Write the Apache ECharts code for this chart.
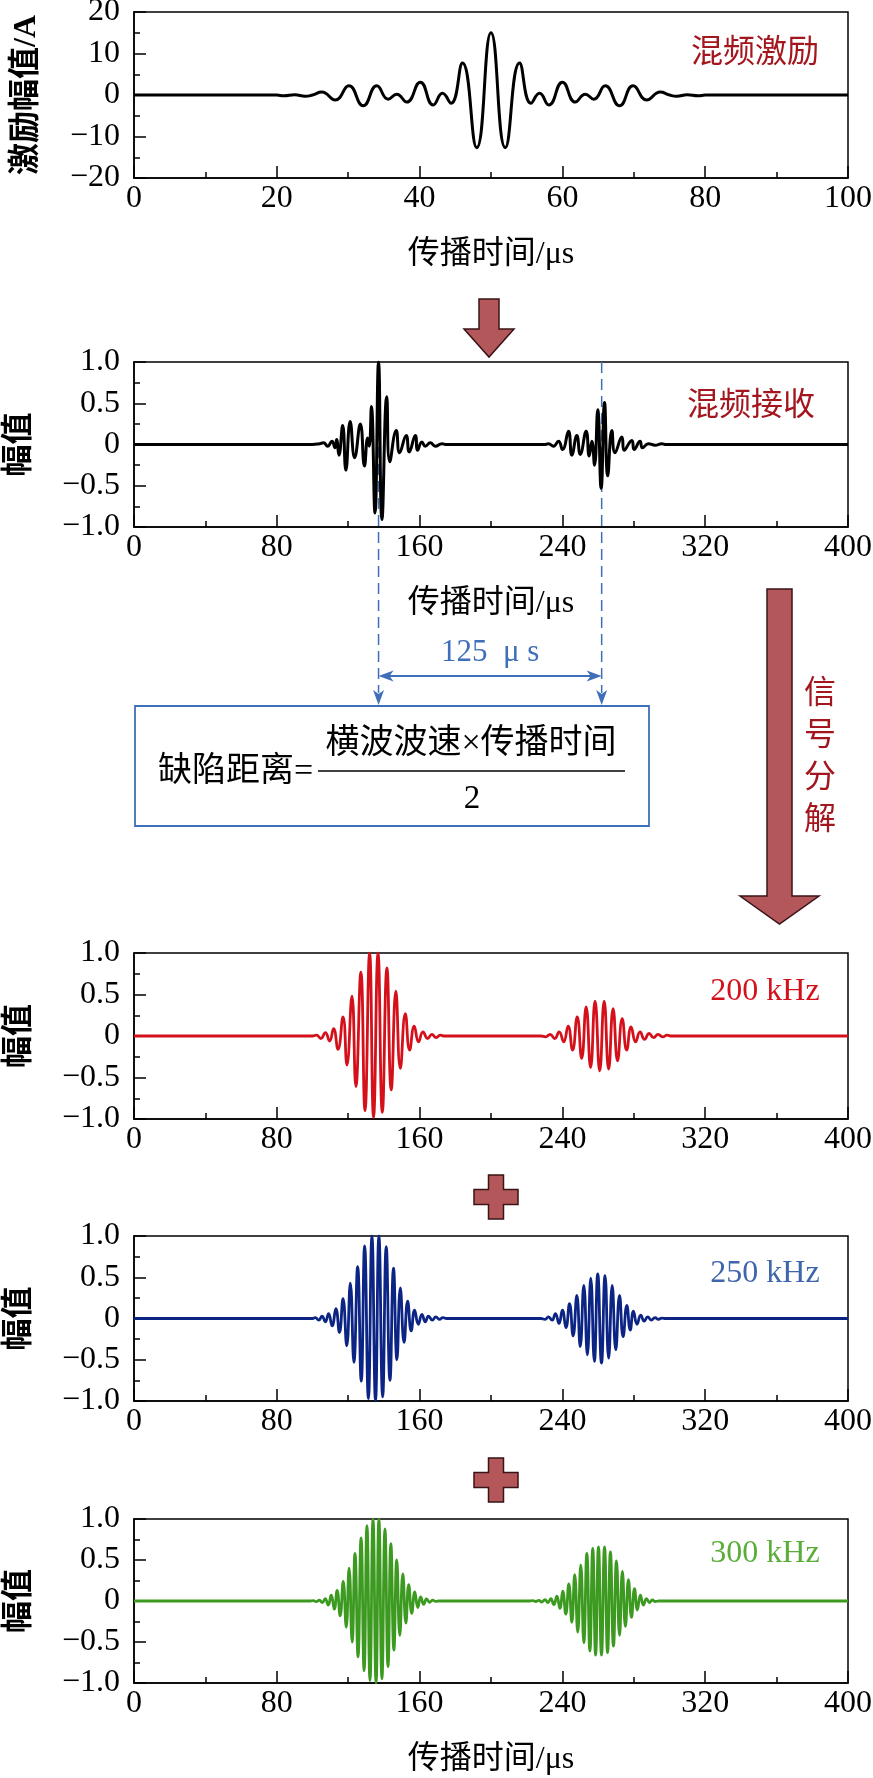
<!DOCTYPE html>
<html><head><meta charset="utf-8">
<script src="https://cdn.jsdelivr.net/npm/echarts/dist/echarts.min.js"></script>
<style>html,body{margin:0;padding:0;background:#fff}#c{width:873px;height:1778px}</style>
</head><body><div id="c"></div><script>
// ---------- data (time in μs, amplitude) ----------
const excitation = [[0,0],[20,0],[21,-0.2],[22.5,0.05],[24,-0.3],[25,0],[26.3,0.7],[28.2,-1.2],[30.1,2.2],[32.1,-2.6],[34.0,2.2],[35.6,-1.0],[36.8,0.2],[38.2,-1.7],[40.1,3.1],[41.9,-2.4],[43.2,0.4],[44.4,-2.0],[46.0,7.7],[48.0,-12.7],[50.0,15.0],[52.0,-12.7],[54.0,7.7],[55.6,-2.0],[56.8,0.4],[58.1,-2.4],[60.0,3.1],[61.8,-1.7],[63.2,0.2],[64.4,-1.0],[66.0,2.2],[68.0,-2.6],[69.9,2.2],[71.8,-1.2],[73.7,0.7],[75.0,0],[76,-0.3],[77.5,0.05],[79,-0.2],[80,0],[100,0]];

const mixedBurst1 = [[100,0],[104,0.01],[106.2,0.02],[108.5,-0.02],[110.9,0.04],[112.6,-0.04],[113.5,0.06],[114.8,-0.13],[116.9,0.23],[118.7,-0.31],[121.1,0.28],[123.6,-0.16],[126.8,0.25],[129.1,-0.26],[130.9,0.08],[131.8,-0.02],[133.0,0.46],[135.0,-0.83],[137.0,1.0],[138.9,-0.91],[141.6,0.58],[143.3,-0.21],[146.9,0.17],[148.8,-0.1],[152.5,0.11],[154.2,-0.09],[157.6,0.11],[158.9,-0.07],[161.3,0.03],[163.2,-0.02],[166.0,0.02],[168.8,-0.02],[172.5,0.01],[175,0]];
const mixedBurst2 = [[230,0],[232.2,0.01],[235.0,-0.02],[237.8,0.04],[240.1,-0.06],[243.4,0.16],[245.3,-0.13],[248.1,0.11],[250.0,-0.12],[253.3,0.16],[255.0,-0.14],[256.5,0.04],[258.0,-0.25],[259.8,0.42],[261.7,-0.53],[263.6,0.51],[265.4,-0.38],[267.7,0.17],[269.5,-0.10],[273.3,0.09],[274.6,-0.07],[278.9,0.05],[280.2,-0.06],[283.5,0.04],[284.8,-0.04],[288.2,0.01],[292.0,-0.01],[295.7,0.01],[298,0]];

const f200Burst1 = [[100,0],[102.2,0.01],[104.7,-0.03],[107.2,0.04],[109.6,-0.06],[111.8,0.09],[114.3,-0.16],[117.1,0.23],[119.3,-0.35],[122.1,0.48],[124.3,-0.61],[127.1,0.77],[129.4,-0.9],[132.0,1.0],[134.2,-0.98],[136.7,1.0],[139.1,-0.92],[141.7,0.82],[144.1,-0.65],[146.7,0.54],[149.2,-0.39],[152.0,0.27],[154.4,-0.17],[157.0,0.12],[159.4,-0.07],[161.9,0.05],[164.5,-0.03],[166.9,0.02],[169.3,-0.02],[171.6,0.01],[174,0]];
const f200Burst2 = [[228,0],[230.6,-0.01],[233.1,0.02],[235.7,-0.03],[238.2,0.05],[240.7,-0.07],[243.2,0.12],[245.7,-0.17],[248.3,0.23],[250.8,-0.27],[253.3,0.35],[255.8,-0.38],[258.3,0.42],[260.9,-0.42],[263.4,0.42],[265.9,-0.40],[268.4,0.33],[270.9,-0.30],[273.5,0.21],[276.0,-0.17],[278.5,0.11],[281.0,-0.07],[283.5,0.05],[286.0,-0.04],[288.6,0.03],[291.1,-0.02],[293.6,0.02],[296.1,-0.01],[298.7,0.01],[301,0]];

const f250Burst1 = [[100,0],[101.6,0.01],[103.5,-0.02],[105.3,0.03],[107.2,-0.04],[109.0,0.06],[111.0,-0.09],[113.1,0.12],[115.1,-0.17],[117.1,0.24],[119.2,-0.33],[121.2,0.43],[123.2,-0.53],[125.3,0.63],[127.3,-0.76],[129.2,0.88],[131.3,-0.97],[133.3,1.0],[135.3,-1.0],[137.2,1.0],[139.3,-0.95],[141.3,0.87],[143.4,-0.75],[145.4,0.61],[147.3,-0.5],[149.2,0.37],[151.3,-0.29],[153.3,0.21],[155.3,-0.15],[157.2,0.10],[159.3,-0.07],[161.3,0.05],[163.2,-0.04],[165.0,0.03],[167.1,-0.02],[169.1,0.02],[171.1,-0.01],[173.1,0.01],[175,0]];
const f250Burst2 = [[228,0],[230.3,-0.01],[232.2,0.02],[234.2,-0.02],[236.1,0.06],[238.1,-0.06],[240.0,0.10],[242.0,-0.11],[244.0,0.18],[246.0,-0.21],[248.1,0.28],[250.0,-0.34],[252.0,0.40],[254.0,-0.44],[255.9,0.49],[257.9,-0.52],[259.8,0.54],[261.9,-0.54],[263.9,0.52],[265.9,-0.48],[267.9,0.40],[269.9,-0.38],[272.0,0.28],[274.0,-0.22],[276.1,0.16],[278.0,-0.14],[279.8,0.09],[281.8,-0.07],[283.9,0.04],[285.8,-0.03],[287.8,0.02],[289.8,-0.02],[291.9,0.01],[293.8,-0.01],[295.7,0.004],[298,0]];

const f300Burst1 = [[98,0],[100.4,0.005],[102.1,-0.008],[103.8,0.01],[105.5,-0.02],[107.1,0.03],[108.8,-0.05],[110.5,0.07],[112.2,-0.1],[113.8,0.13],[115.5,-0.18],[117.2,0.24],[118.9,-0.32],[120.5,0.40],[122.2,-0.5],[123.8,0.58],[125.5,-0.68],[127.2,0.77],[128.9,-0.85],[130.5,0.92],[132.2,-0.97],[133.9,1.0],[135.6,-1.0],[137.2,1.0],[138.9,-0.95],[140.6,0.88],[142.3,-0.8],[143.9,0.70],[145.6,-0.6],[147.2,0.50],[148.9,-0.42],[150.6,0.33],[152.3,-0.27],[153.9,0.20],[155.6,-0.15],[157.3,0.11],[159.0,-0.08],[160.6,0.05],[162.3,-0.04],[163.9,0.025],[165.6,-0.015],[167.3,0.01],[169,-0.005],[171,0]];
const f300Burst2 = [[221,0],[223.4,0.004],[225.1,-0.006],[226.8,0.008],[228.5,-0.012],[230.2,0.016],[231.9,-0.02],[233.5,0.03],[235.2,-0.045],[236.9,0.06],[238.6,-0.09],[240.2,0.12],[241.9,-0.16],[243.6,0.21],[245.3,-0.26],[246.9,0.32],[248.6,-0.38],[250.3,0.44],[252.0,-0.51],[253.7,0.58],[255.4,-0.61],[257.0,0.64],[258.6,-0.66],[260.2,0.66],[261.9,-0.66],[263.6,0.66],[265.3,-0.63],[266.9,0.60],[268.6,-0.55],[270.3,0.49],[272.0,-0.42],[273.6,0.36],[275.3,-0.31],[277.0,0.26],[278.7,-0.2],[280.4,0.15],[282.0,-0.11],[283.7,0.07],[285.4,-0.05],[287.1,0.03],[288.8,-0.02],[290.4,0.012],[292,-0.006],[294,0]];

const echoTimes = [137, 262];          // echo arrival times marked by dashed lines (μs)
const panelLabels = ['混频激励', '混频接收', '200 kHz', '250 kHz', '300 kHz'];
const xLabelText = '传播时间/μs';
const yLabels = ['激励幅值/A', '幅值', '幅值', '幅值', '幅值'];

// ---------- layout / style ----------
const FONT = "'Liberation Serif','Noto Sans CJK SC',serif";
const L = 134, W = 714;
const gridsPos = [{top:12,height:166},{top:362,height:165},{top:953,height:166},{top:1236,height:165},{top:1519,height:164}];
const lineColors = ['#000000','#000000','#d4111b','#0c2585','#3d9a20'];
const labelColors = ['#a3161e','#a3161e','#d4111b','#3f65aa','#5aad38'];
const full = (b1, b2) => [[0,0], ...b1, ...b2, [400,0]];
const seriesData = [excitation, full(mixedBurst1, mixedBurst2), full(f200Burst1, f200Burst2), full(f250Burst1, f250Burst2), full(f300Burst1, f300Burst2)];

const minus = s => String(s).replace('-', '\u2212');
function xAx(i, max, interval){
  return {type:'value', gridIndex:i, min:0, max, interval,
    axisLine:{show:true, onZero:false, lineStyle:{color:'#000', width:1.5}},
    axisTick:{show:true, inside:true, length:12, lineStyle:{color:'#000', width:1.5}},
    minorTick:{show:true, splitNumber:2, length:6, lineStyle:{color:'#000', width:1.5}},
    splitLine:{show:false}, minorSplitLine:{show:false},
    axisLabel:{color:'#000', fontSize:32, fontFamily:FONT, margin:5}};
}
function yAx(i, min, max, interval, fmt){
  return {type:'value', gridIndex:i, min, max, interval,
    axisLine:{show:true, onZero:false, lineStyle:{color:'#000', width:1.5}},
    axisTick:{show:true, inside:true, length:12, lineStyle:{color:'#000', width:1.5}},
    minorTick:{show:true, splitNumber:2, length:6, lineStyle:{color:'#000', width:1.5}},
    splitLine:{show:false}, minorSplitLine:{show:false},
    axisLabel:{color:'#000', fontSize:32, fontFamily:FONT, margin:14, formatter:fmt}};
}
const fmtInt = v => minus(v);
const fmtDec = v => v === 0 ? '0' : minus(v.toFixed(1));

const chart = echarts.init(document.getElementById('c'), null, {renderer:'canvas'});
const option = {
  animation:false,
  backgroundColor:'#fff',
  grid: gridsPos.map(g => ({left:L, width:W, top:g.top, height:g.height, show:true, borderColor:'#000', borderWidth:1.5, backgroundColor:'transparent', containLabel:false, outerBoundsMode:'none'})),
  xAxis: [xAx(0,100,20), xAx(1,400,80), xAx(2,400,80), xAx(3,400,80), xAx(4,400,80)],
  yAxis: [yAx(0,-20,20,10,fmtInt), yAx(1,-1,1,0.5,fmtDec), yAx(2,-1,1,0.5,fmtDec), yAx(3,-1,1,0.5,fmtDec), yAx(4,-1,1,0.5,fmtDec)],
  series: seriesData.map((d,i) => ({type:'line', xAxisIndex:i, yAxisIndex:i, data:d, symbol:'none', showSymbol:false, smooth:0.5, silent:true, clip:true,
    lineStyle:{color:lineColors[i], width: i<2 ? 3 : 2.8}}))
};
chart.setOption(option);

// ---------- annotations ----------
const BLUE = '#3f6fb8', ARROW_FILL = '#b4575a', ARROW_STROKE = '#3a1416', DARKRED = '#a3161e';
const g = [];
const txt = (text, x, y, size, color, extra) => Object.assign({type:'text', x, y, silent:true,
  style:Object.assign({text, fill:color, font: size+'px '+FONT, align:'center', verticalAlign:'middle'}, (extra&&extra.style)||{})}, extra ? {rotation: extra.rotation||0} : {});

// panel labels
const lblPos = [[755,54],[751,407],[765,992],[765,1274],[765,1554]];
panelLabels.forEach((t,i) => g.push(txt(t, lblPos[i][0], lblPos[i][1], 32, labelColors[i])));
// y labels
gridsPos.forEach((p,i) => g.push(txt(yLabels[i], i===0?27:20, p.top + p.height/2, 32, '#000', {rotation:Math.PI/2, style:{font:'bold 32px '+FONT}})));
// x labels
[0,1,4].forEach(i => { const p = gridsPos[i]; g.push(txt(xLabelText, L + W/2, p.top + p.height + 77, 32, '#000')); });

// down arrow between panel 1 and 2
g.push({type:'polygon', silent:true, shape:{points:[[479,299],[499,299],[499,329],[514,329],[489,357],[464,329],[479,329]]}, style:{fill:ARROW_FILL, stroke:ARROW_STROKE, lineWidth:1.5}});
// right big arrow
g.push({type:'polygon', silent:true, shape:{points:[[767,589],[792,589],[792,896],[819,896],[779.5,924],[740,896],[767,896]]}, style:{fill:ARROW_FILL, stroke:ARROW_STROKE, lineWidth:1.5}});
g.push(txt('信\n号\n分\n解', 820, 758, 32, DARKRED, {style:{lineHeight:42}}));
// plus signs
function plus(cx, cy){ const a=7.5, b=22; return {type:'polygon', silent:true, shape:{points:[[cx-a,cy-b],[cx+a,cy-b],[cx+a,cy-a],[cx+b,cy-a],[cx+b,cy+a],[cx+a,cy+a],[cx+a,cy+b],[cx-a,cy+b],[cx-a,cy+a],[cx-b,cy+a],[cx-b,cy-a],[cx-a,cy-a]]}, style:{fill:ARROW_FILL, stroke:ARROW_STROKE, lineWidth:1.5}}; }
g.push(plus(496,1197)); g.push(plus(496,1480));

// dashed echo lines + arrows
const xs = echoTimes.map(t => chart.convertToPixel({xAxisIndex:1}, t));
const yTop = gridsPos[1].top, yTip = 705, yH = 676;
xs.forEach(x => {
  g.push({type:'line', silent:true, shape:{x1:x, y1:yTop, x2:x, y2:yTip-12}, style:{stroke:BLUE, lineWidth:1.5, lineDash:[11,6]}});
  g.push({type:'polygon', silent:true, shape:{points:[[x,yTip],[x-5.5,yTip-15],[x,yTip-11],[x+5.5,yTip-15]]}, style:{fill:BLUE}});
});
g.push({type:'line', silent:true, shape:{x1:xs[0]+10, y1:yH, x2:xs[1]-10, y2:yH}, style:{stroke:BLUE, lineWidth:1.8}});
g.push({type:'polygon', silent:true, shape:{points:[[xs[0],yH],[xs[0]+15,yH-5.5],[xs[0]+11,yH],[xs[0]+15,yH+5.5]]}, style:{fill:BLUE}});
g.push({type:'polygon', silent:true, shape:{points:[[xs[1],yH],[xs[1]-15,yH-5.5],[xs[1]-11,yH],[xs[1]-15,yH+5.5]]}, style:{fill:BLUE}});
g.push(txt((echoTimes[1]-echoTimes[0]) + '  μ s', (xs[0]+xs[1])/2, 653, 31, BLUE));

// formula box
g.push({type:'rect', silent:true, shape:{x:135, y:706, width:514, height:120}, style:{fill:'none', stroke:BLUE, lineWidth:1.8}});
g.push(txt('缺陷距离=', 158, 772, 34, '#000', {style:{align:'left'}}));
g.push(txt('横波波速×传播时间', 471, 744, 34, '#000'));
g.push({type:'line', silent:true, shape:{x1:318, y1:771, x2:625, y2:771}, style:{stroke:'#000', lineWidth:1.5}});
g.push(txt('2', 472, 799, 33, '#000'));

chart.setOption({graphic: g});
</script></body></html>
